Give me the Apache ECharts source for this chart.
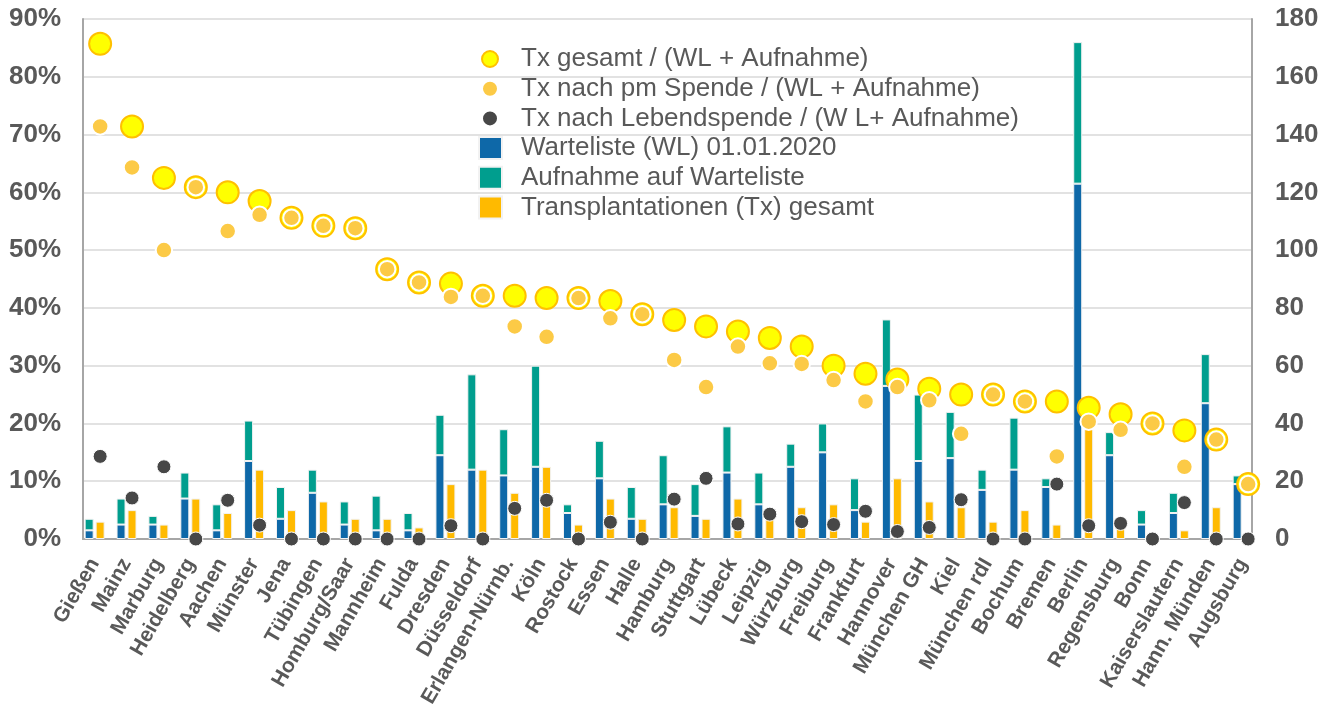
<!DOCTYPE html>
<html>
<head>
<meta charset="utf-8">
<title>Transplantationen je Zentrum</title>
<script src="https://cdn.jsdelivr.net/npm/echarts@6/dist/echarts.min.js"></script>
<style>
  html, body { margin: 0; padding: 0; background: #ffffff; }
  #chart { width: 1335px; height: 716px; }
</style>
</head>
<body>
<div id="chart"></div>
<script>
// Transplantationszentren
const centres = [
  'Gießen', 'Mainz', 'Marburg', 'Heidelberg', 'Aachen', 'Münster', 'Jena',
  'Tübingen', 'Homburg/Saar', 'Mannheim', 'Fulda', 'Dresden', 'Düsseldorf',
  'Erlangen-Nürnb.', 'Köln', 'Rostock', 'Essen', 'Halle', 'Hamburg',
  'Stuttgart', 'Lübeck', 'Leipzig', 'Würzburg', 'Freiburg', 'Frankfurt',
  'Hannover', 'München GH', 'Kiel', 'München rdI', 'Bochum', 'Bremen',
  'Berlin', 'Regensburg', 'Bonn', 'Kaiserslautern', 'Hann. Münden', 'Augsburg'
];

// Anzahl Patienten (rechte Achse)
const warteliste = [3, 5, 5, 14, 3, 27, 7, 16, 5, 3, 3, 29, 24, 22, 25, 9, 21, 7, 12,
  8, 23, 12, 25, 30, 10, 53, 27, 28, 17, 24, 18, 123, 29, 5, 9, 47, 19];
const aufnahme = [4, 9, 3, 9, 9, 14, 11, 8, 8, 12, 6, 14, 33, 16, 35, 3, 13, 11, 17,
  11, 16, 11, 8, 10, 11, 23, 23, 16, 7, 18, 3, 49, 8, 5, 7, 17, 3];
const txGesamt = [6, 10, 5, 14, 9, 24, 10, 13, 7, 7, 4, 19, 24, 16, 25, 5, 14, 7, 11,
  7, 14, 8, 11, 12, 6, 21, 13, 11, 6, 10, 5, 39, 7, 2, 3, 11, 2];

// Quoten in Prozent (linke Achse)
const quoteGesamt = [85.7, 71.4, 62.5, 60.9, 60.0, 58.5, 55.6, 54.2, 53.8, 46.7, 44.4,
  44.2, 42.1, 42.1, 41.7, 41.7, 41.2, 38.9, 37.9, 36.8, 35.9, 34.8, 33.3, 30.0, 28.6,
  27.6, 26.0, 25.0, 25.0, 23.8, 23.8, 22.7, 21.6, 20.0, 18.8, 17.2, 9.5];
const quotePm = [71.4, 64.3, 50.0, 60.9, 53.3, 56.1, 55.6, 54.2, 53.8, 46.7, 44.4,
  41.9, 42.1, 36.8, 35.0, 41.7, 38.2, 38.9, 31.0, 26.3, 33.3, 30.4, 30.3, 27.5, 23.8,
  26.3, 24.0, 18.2, 25.0, 23.8, 14.3, 20.3, 18.9, 20.0, 12.5, 17.2, 9.5];
const quoteLebend = [14.3, 7.1, 12.5, 0, 6.7, 2.4, 0, 0, 0, 0, 0, 2.3, 0, 5.3, 6.7, 0,
  2.9, 0, 6.9, 10.5, 2.6, 4.3, 3.0, 2.5, 4.8, 1.3, 2.0, 6.8, 0, 0, 9.5, 2.3, 2.7, 0,
  6.3, 0, 0];

// Achsenskalen
const pctAxis = { min: 0, max: 90, step: 10 };
const countAxis = { min: 0, max: 180, step: 20 };

const FONT = '"Liberation Sans", Arial, Helvetica, sans-serif';
const TEXT = '#595959';
const AXIS_GREY = '#A6A6A6';
const GRID_GREY = '#D9D9D9';

const names = {
  gesamt: 'Tx gesamt / (WL + Aufnahme)',
  pm: 'Tx nach pm Spende / (WL + Aufnahme)',
  lebend: 'Tx nach Lebendspende / (W L+ Aufnahme)',
  wl: 'Warteliste (WL) 01.01.2020',
  auf: 'Aufnahme auf Warteliste',
  tx: 'Transplantationen (Tx) gesamt'
};

const chart = echarts.init(document.getElementById('chart'), null, { renderer: 'canvas' });

const barStyle = (color) => ({ color: color, borderColor: '#F2F2F2', borderWidth: 1 });

chart.setOption({
  animation: false,
  backgroundColor: '#ffffff',
  textStyle: { fontFamily: FONT },
  // grid 0: Rahmen mit Achsen, grid 1: Säulen und Beschriftung, grid 2: Punkte
  grid: [
    { left: 83, right: 83, top: 19, bottom: 177 },
    { left: 78.7, right: 76.4, top: 19, bottom: 177 },
    { left: 84.2, right: 70.9, top: 19, bottom: 177 }
  ],
  legend: [
    {
      data: [names.gesamt, names.pm, names.lebend],
      orient: 'vertical', left: 481, top: 46, padding: 0,
      icon: 'circle', itemWidth: 16, itemHeight: 16, itemGap: 3.7,
      textStyle: { fontFamily: FONT, fontSize: 26, color: TEXT, padding: [0, 0, 0, 18] },
      selectedMode: false
    },
    {
      data: [names.wl, names.auf, names.tx],
      orient: 'vertical', left: 478, top: 135, padding: 0,
      icon: 'rect', itemWidth: 23, itemHeight: 22, itemGap: 3.7,
      textStyle: { fontFamily: FONT, fontSize: 26, color: TEXT, padding: [0, 0, 0, 14] },
      selectedMode: false
    }
  ],
  xAxis: [
    {
      gridIndex: 0, type: 'category', data: centres,
      axisLine: { lineStyle: { color: AXIS_GREY, width: 2 } },
      axisTick: { show: false }, axisLabel: { show: false }, splitLine: { show: false }
    },
    {
      gridIndex: 1, type: 'category', data: centres,
      axisLine: { show: false }, axisTick: { show: false }, splitLine: { show: false },
      axisLabel: {
        interval: 0, rotate: 60, margin: 21,
        fontFamily: FONT, fontSize: 21, fontWeight: 'bold', color: TEXT
      }
    },
    { gridIndex: 2, type: 'category', data: centres, show: false }
  ],
  yAxis: [
    {
      gridIndex: 0, type: 'value', position: 'left',
      min: pctAxis.min, max: pctAxis.max, interval: pctAxis.step,
      axisLine: { show: true, lineStyle: { color: AXIS_GREY, width: 2 } },
      axisTick: { show: false },
      axisLabel: {
        formatter: '{value}%', margin: 22,
        fontFamily: FONT, fontSize: 26, fontWeight: 'bold', color: TEXT
      },
      splitLine: { lineStyle: { color: GRID_GREY, width: 1.5 } }
    },
    {
      gridIndex: 0, type: 'value', position: 'right',
      min: countAxis.min, max: countAxis.max, interval: countAxis.step,
      axisLine: { show: true, lineStyle: { color: AXIS_GREY, width: 2 } },
      axisTick: { show: false },
      axisLabel: {
        margin: 23, fontFamily: FONT, fontSize: 26, fontWeight: 'bold', color: TEXT
      },
      splitLine: { show: false }
    },
    { gridIndex: 1, type: 'value', min: countAxis.min, max: countAxis.max, show: false },
    { gridIndex: 2, type: 'value', min: pctAxis.min, max: pctAxis.max, show: false }
  ],
  series: [
    {
      name: names.wl, type: 'bar', xAxisIndex: 1, yAxisIndex: 2, stack: 'liste',
      barWidth: 9, barGap: '22%', data: warteliste, itemStyle: barStyle('#0E68A8'), z: 2
    },
    {
      name: names.auf, type: 'bar', xAxisIndex: 1, yAxisIndex: 2, stack: 'liste',
      barWidth: 9, barGap: '22%', data: aufnahme, itemStyle: barStyle('#009E8E'), z: 2
    },
    {
      name: names.tx, type: 'bar', xAxisIndex: 1, yAxisIndex: 2,
      barWidth: 9, barGap: '22%', data: txGesamt, itemStyle: barStyle('#FFBA00'), z: 2
    },
    {
      name: names.gesamt, type: 'scatter', xAxisIndex: 2, yAxisIndex: 3,
      data: quoteGesamt, symbol: 'circle', symbolSize: 22, z: 3,
      itemStyle: { color: '#FFFF00', borderColor: '#FFC000', borderWidth: 2, opacity: 1 }
    },
    {
      name: names.pm, type: 'scatter', xAxisIndex: 2, yAxisIndex: 3,
      data: quotePm, symbol: 'circle', symbolSize: 16.5, z: 4,
      itemStyle: { color: '#FCCA46', borderColor: '#ffffff', borderWidth: 2, opacity: 1 }
    },
    {
      name: names.lebend, type: 'scatter', xAxisIndex: 2, yAxisIndex: 3,
      data: quoteLebend, symbol: 'circle', symbolSize: 14, z: 5,
      itemStyle: { color: '#474747', borderColor: '#ffffff', borderWidth: 1, opacity: 1 }
    }
  ]
});
</script>
</body>
</html>
